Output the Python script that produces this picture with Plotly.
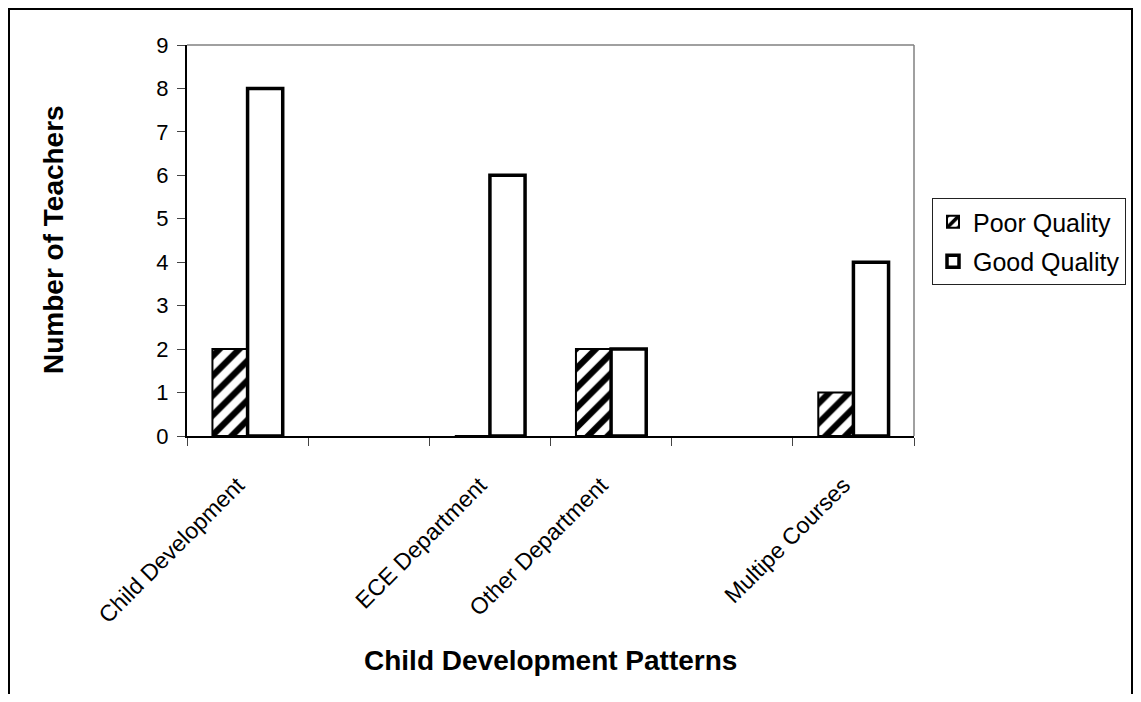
import plotly.graph_objects as go

categories = ["Child Development", " ", "ECE Department", "Other Department", "  ", "Multipe Courses"]
poor_quality = [2, None, 0, 2, None, 1]
good_quality = [8, None, 6, 2, None, 4]
y_ticks = [0, 1, 2, 3, 4, 5, 6, 7, 8, 9]

FONT = "Liberation Sans, Arial, sans-serif"

OFF = 8  # page body margin
W, H = 1141 - 2 * OFF, 702 - 2 * OFF
# plot area in page coordinates
X0, X1, Y0, Y1 = 187, 914, 45, 436
L, R, T, B = X0 - OFF, W - (X1 - OFF), Y0 - OFF, H - (Y1 - OFF)
pw, ph = X1 - X0, Y1 - Y0

def px(x):
    return (x - X0) / pw

def py(y):
    return (Y1 - y) / ph

fig = go.Figure()
fig.add_trace(go.Bar(
    x=categories, y=poor_quality, name="Poor Quality",
    marker=dict(color="white", line=dict(color="black", width=2),
                pattern=dict(shape="/", fgcolor="black", bgcolor="white", size=14,
                             solidity=0.45, fgopacity=1)),
    legendgroup="a",
))
fig.add_trace(go.Bar(
    x=categories, y=good_quality, name="Good Quality",
    marker=dict(color="white", line=dict(color="black", width=3.5)),
    legendgroup="b",
))

fig.update_layout(
    width=W, height=H,
    margin=dict(l=L, r=R, t=T, b=B, autoexpand=False),
    paper_bgcolor="white", plot_bgcolor="white",
    barmode="group", bargap=0.42, bargroupgap=0,
    font=dict(family=FONT, color="black", size=22),
    showlegend=True,
    legend=dict(x=px(932), y=py(198), xanchor="left", yanchor="top",
                bordercolor="#222", borderwidth=1, bgcolor="white",
                font=dict(size=25, family=FONT), tracegroupgap=4,
                itemwidth=30),
    xaxis=dict(type="category", categoryorder="array", categoryarray=categories,
               tickson="boundaries", ticks="outside", ticklen=8, tickcolor="#444",
               tickangle=-45, tickfont=dict(size=23, family=FONT),
               ticklabelstandoff=25, ticklabelshift=-10, automargin=False,
               showline=True, linecolor="black", linewidth=1.5,
               showgrid=False, zeroline=False),
    yaxis=dict(range=[0, 9], tickvals=y_ticks, ticks="outside", ticklen=8, tickcolor="#444",
               tickfont=dict(size=22, family=FONT), ticklabelstandoff=4, automargin=False,
               showline=True, linecolor="black", linewidth=2,
               showgrid=False, zeroline=False),
    shapes=[
        dict(type="line", xref="paper", yref="paper", x0=0, x1=1, y0=1, y1=1,
             line=dict(color="#808080", width=1.5)),
        dict(type="line", xref="paper", yref="paper", x0=1, x1=1, y0=0, y1=1,
             line=dict(color="#808080", width=1.5)),
        dict(type="rect", xref="paper", yref="paper",
             x0=px(9), x1=px(W + OFF - 1), y0=py(OFF + 1), y1=py(760),
             line=dict(color="black", width=2), fillcolor="rgba(0,0,0,0)", layer="below"),
    ],
    annotations=[
        dict(text="<b>Number of Teachers</b>", xref="paper", yref="paper",
             x=px(53), y=py(240), textangle=-90, showarrow=False,
             xanchor="center", yanchor="middle", font=dict(size=28, family=FONT)),
        dict(text="<b>Child Development Patterns</b>", xref="paper", yref="paper",
             x=px(550), y=py(660), showarrow=False,
             xanchor="center", yanchor="middle", font=dict(size=28, family=FONT)),
    ],
)

fig.write_html("out.html")
